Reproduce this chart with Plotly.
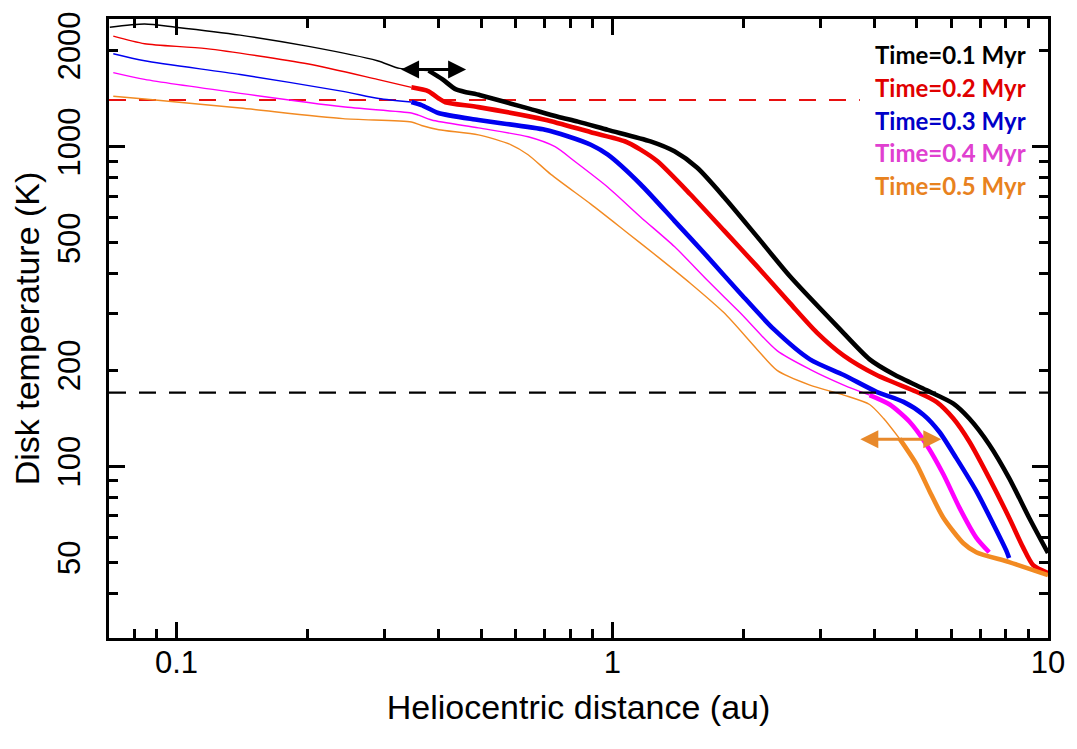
import numpy as np
import plotly.graph_objects as go

# ---------------- data ----------------
series_names = ["Time=0.1 Myr", "Time=0.2 Myr", "Time=0.3 Myr", "Time=0.4 Myr", "Time=0.5 Myr"]
line_colors = ["#000000", "#f00000", "#0000f0", "#ff00ff", "#f28a22"]
label_colors = ["#000000", "#e00000", "#0000c8", "#e040d0", "#e8821e"]

r_01 = [0.0703, 0.0845, 0.0995, 0.140, 0.201, 0.289, 0.325, 0.379, 0.408, 0.438, 0.498,
        0.641, 0.750, 0.834, 0.977, 1.224, 1.389, 1.567, 1.806, 2.150, 2.557, 3.30, 3.896,
        4.424, 5.258, 6.064, 6.597, 7.328, 8.143, 9.051, 10.0]
T_01 = [2366, 2421, 2366, 2234, 2060, 1858, 1758, 1730, 1624, 1512, 1449,
        1318, 1241, 1198, 1129, 1039, 967, 859, 695, 523, 393, 272, 216,
        194, 173, 157, 141, 117, 91.8, 69, 53.5]

r_02 = [0.0716, 0.0845, 0.117, 0.201, 0.289, 0.346, 0.379, 0.399, 0.414, 0.493, 0.701,
        0.893, 1.068, 1.161, 1.270, 1.510, 1.806, 2.150, 2.557, 2.949, 3.398, 4.042,
        4.989, 5.546, 6.064, 6.597, 7.328, 8.143, 8.766, 9.245, 10.0]
T_02 = [2218, 2100, 2027, 1814, 1624, 1534, 1490, 1418, 1378, 1330, 1215,
        1110, 1040, 979, 900, 710, 546, 422, 324, 262, 222, 193,
        171, 159, 141, 119.5, 91.8, 69, 55.7, 49, 46.3]

r_03 = [0.0716, 0.0845, 0.140, 0.241, 0.291, 0.346, 0.365, 0.399, 0.493, 0.701, 0.790,
        0.893, 0.977, 1.161, 1.389, 1.653, 1.966, 2.351, 2.842, 3.398, 4.042, 4.661,
        5.177, 5.635, 6.160, 6.843, 7.482, 8.014, 8.143]
T_03 = [1954, 1858, 1682, 1490, 1415, 1380, 1349, 1275, 1212, 1130, 1078,
        1014, 944, 763, 586, 453, 348, 268, 216, 193, 171, 159,
        145, 128, 106, 83.7, 66.1, 54.6, 51.6]

r_04 = [0.0716, 0.0845, 0.140, 0.241, 0.346, 0.359, 0.385, 0.493, 0.641, 0.739, 0.821,
        0.977, 1.161, 1.389, 1.653, 1.966, 2.389, 2.842, 3.398, 3.896, 4.333, 4.806,
        5.258, 5.752, 6.261, 6.843, 7.328]
T_04 = [1706, 1624, 1469, 1333, 1275, 1256, 1212, 1145, 1074, 1000, 899,
        747, 603, 487, 382, 302, 230, 201, 179.5, 167, 156, 138,
        117, 94.4, 74.2, 59.8, 53.8]

r_05 = [0.0716, 0.0845, 0.140, 0.241, 0.346, 0.365, 0.400, 0.493, 0.586, 0.641, 0.723,
        0.893, 1.068, 1.270, 1.510, 1.806, 2.150, 2.389, 2.842, 3.398, 3.896, 4.196,
        4.563, 4.989, 5.345, 5.752, 6.395, 6.843, 8.143, 10.0]
T_05 = [1438, 1411, 1321, 1224, 1195, 1165, 1130, 1089, 1014, 944, 819,
        661, 546, 453, 374, 302, 232, 199.5, 179.5, 167, 156, 141,
        122, 101.5, 83.7, 69, 57.4, 53.8, 50.1, 45.6]

radii = [r_01, r_02, r_03, r_04, r_05]
temps = [T_01, T_02, T_03, T_04, T_05]
thick_from = [0.379, 0.346, 0.346, 3.896, 4.563]   # where each curve turns bold

silicate_T = 1400          # red dashed line
silicate_r_end = 3.7
snow_T = 170               # black dashed line
r_min, r_max = 0.07, 10.0
T_min, T_max = 29.0, 2510.0

black_arrow_r = [0.325, 0.462]
black_arrow_T = 1744
orange_arrow_r = [3.68, 5.69]
orange_arrow_T = 121.5

x_major = [0.1, 1, 10]
x_major_text = ["0.1", "1", "10"]
x_minor = [0.08, 0.09, 0.2, 0.3, 0.4, 0.5, 0.6, 0.7, 0.8, 0.9, 2, 3, 4, 5, 6, 7, 8, 9]
y_labels = [50, 100, 200, 500, 1000, 2000]
y_long = [100, 1000]
y_minor = [40, 60, 70, 80, 90, 300, 400, 600, 700, 800, 900]

# ---------------- figure ----------------
fig = go.Figure()

# reference lines
fig.add_trace(go.Scatter(x=[r_min, silicate_r_end], y=[silicate_T, silicate_T], mode="lines",
                         line=dict(color="#e81010", width=2.2, dash="17px,13px"),
                         showlegend=False, hoverinfo="skip"))
fig.add_trace(go.Scatter(x=[r_min, r_max], y=[snow_T, snow_T], mode="lines", yaxis="y2",
                         line=dict(color="#000000", width=2.2, dash="17px,13px"),
                         showlegend=False, hoverinfo="skip"))

for name, r, T, cut, col in zip(series_names, radii, temps, thick_from, line_colors):
    r = np.array(r, dtype=float)
    T = np.array(T, dtype=float)
    thin = r <= cut + 1e-9
    thick = r >= cut - 1e-9
    fig.add_trace(go.Scatter(x=r[thin], y=T[thin], mode="lines", name=name,
                             line=dict(color=col, width=1.4, shape="spline", smoothing=0.7),
                             showlegend=False))
    fig.add_trace(go.Scatter(x=r[thick], y=T[thick], mode="lines", name=name,
                             line=dict(color=col, width=4.6, shape="spline", smoothing=0.7),
                             showlegend=False))

tick_font = dict(family="Liberation Sans, Arial, sans-serif", size=31, color="#000000")
title_font = dict(family="Liberation Sans, Arial, sans-serif", size=34, color="#000000")

fig.update_layout(
    width=1077, height=749,
    margin=dict(l=109, r=25, t=13, b=111, pad=0),
    paper_bgcolor="white", plot_bgcolor="white",
    showlegend=False,
    xaxis=dict(
        type="log", range=[np.log10(r_min), np.log10(r_max)],
        showline=True, linecolor="black", linewidth=3, mirror="ticks",
        ticks="inside", ticklen=16, tickwidth=2.5, tickcolor="black",
        tickmode="array", tickvals=x_major, ticktext=x_major_text,
        tickfont=tick_font, showgrid=False, zeroline=False,
        ticklabelstandoff=-5,
        minor=dict(ticks="inside", ticklen=9, tickwidth=2.5, tickcolor="black",
                   tickmode="array", tickvals=x_minor, showgrid=False),
        title=dict(text="Heliocentric distance (au)", font=title_font, standoff=16),
    ),
    yaxis=dict(
        type="log", range=[np.log10(T_min), np.log10(T_max)],
        showline=True, linecolor="black", linewidth=3, mirror="ticks",
        ticks="inside", ticklen=9, tickwidth=2.5, tickcolor="black",
        tickmode="array", tickvals=y_labels, ticktext=[str(v) for v in y_labels],
        tickangle=-90, tickfont=tick_font, showgrid=False, zeroline=False,
        ticklabelstandoff=14,
        minor=dict(ticks="inside", ticklen=9, tickwidth=2.5, tickcolor="black",
                   tickmode="array", tickvals=y_minor, showgrid=False),
        title=dict(text="Disk temperature (K)", font=title_font, standoff=2),
    ),
    yaxis2=dict(
        type="log", range=[np.log10(T_min), np.log10(T_max)], overlaying="y", anchor="x",
        side="left", showline=False, mirror="ticks",
        ticks="inside", ticklen=16, tickwidth=2.5, tickcolor="black",
        tickmode="array", tickvals=y_long, showticklabels=False,
        showgrid=False, zeroline=False,
    ),
)

# series labels (coloured text block at top right)
label_x_px = 1032
label_y0_px = 49
label_dy_px = 33
plot_l, plot_r, plot_t, plot_b = 109, 1052, 13, 638
for i, (name, col) in enumerate(zip(series_names, label_colors)):
    py = label_y0_px + i * label_dy_px
    fig.add_annotation(
        x=(label_x_px - plot_l) / (plot_r - plot_l), y=(plot_b - py) / (plot_b - plot_t),
        xref="paper", yref="paper", xanchor="right", yanchor="middle",
        text="<b>%s</b>" % name, showarrow=False,
        font=dict(family="Lato, Noto Sans, sans-serif", size=24, color=col),
    )

# double-headed arrows
for rr, TT, col in [(black_arrow_r, black_arrow_T, "#000000"), (orange_arrow_r, orange_arrow_T, "#e8892b")]:
    fig.add_annotation(
        x=np.log10(rr[1]), y=np.log10(TT), ax=np.log10(rr[0]), ay=np.log10(TT),
        xref="x", yref="y", axref="x", ayref="y", text="", showarrow=True,
        arrowhead=2, arrowside="end+start", arrowsize=1.2, arrowwidth=3, arrowcolor=col,
    )

fig.write_html("out.html", config={"displayModeBar": False})
